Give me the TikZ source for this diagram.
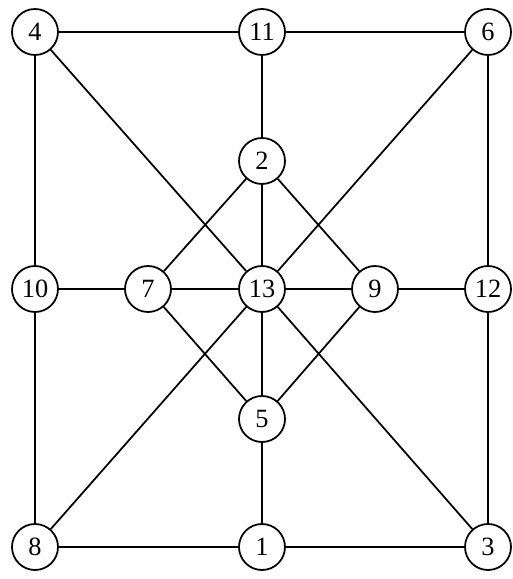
\documentclass[tikz,border=0pt]{standalone}
\usepackage{fontspec}
\setmainfont{Liberation Serif}
\usetikzlibrary{positioning}

\begin{document}
\begin{tikzpicture}[
  vtx/.style={draw, circle, fill=white, line width=1pt,
              minimum size=0.92cm, inner sep=0pt,
              font=\fontsize{15}{15}\selectfont},
  edge/.style={line width=1pt, color=black}
]
  \useasboundingbox (0,0) rectangle (10.24,11.58);

  % outer frame
  \node[vtx] (v4)  at (0.70,10.94) {4};
  \node[vtx] (v11) at (5.24,10.94) {11};
  \node[vtx] (v6)  at (9.76,10.94) {6};
  \node[vtx] (v10) at (0.70,5.80)  {10};
  \node[vtx] (v12) at (9.76,5.80)  {12};
  \node[vtx] (v8)  at (0.70,0.64)  {8};
  \node[vtx] (v1)  at (5.24,0.64)  {1};
  \node[vtx] (v3)  at (9.76,0.64)  {3};

  % inner diamond
  \node[vtx] (v2)  at (5.24,8.36)  {2};
  \node[vtx] (v7)  at (2.96,5.80)  {7};
  \node[vtx] (v13) at (5.24,5.80)  {13};
  \node[vtx] (v9)  at (7.50,5.80)  {9};
  \node[vtx] (v5)  at (5.24,3.20)  {5};

  \draw[edge] (v4) -- (v11);
  \draw[edge] (v11) -- (v6);
  \draw[edge] (v4) -- (v10);
  \draw[edge] (v10) -- (v8);
  \draw[edge] (v6) -- (v12);
  \draw[edge] (v12) -- (v3);
  \draw[edge] (v8) -- (v1);
  \draw[edge] (v1) -- (v3);

  \draw[edge] (v11) -- (v2);
  \draw[edge] (v2) -- (v13);
  \draw[edge] (v13) -- (v5);
  \draw[edge] (v5) -- (v1);

  \draw[edge] (v10) -- (v7);
  \draw[edge] (v7) -- (v13);
  \draw[edge] (v13) -- (v9);
  \draw[edge] (v9) -- (v12);

  \draw[edge] (v2) -- (v7);
  \draw[edge] (v2) -- (v9);
  \draw[edge] (v7) -- (v5);
  \draw[edge] (v9) -- (v5);

  % diagonals
  \draw[edge] (v4) -- (v13);
  \draw[edge] (v13) -- (v3);
  \draw[edge] (v6) -- (v13);
  \draw[edge] (v13) -- (v8);
\end{tikzpicture}
\end{document}
